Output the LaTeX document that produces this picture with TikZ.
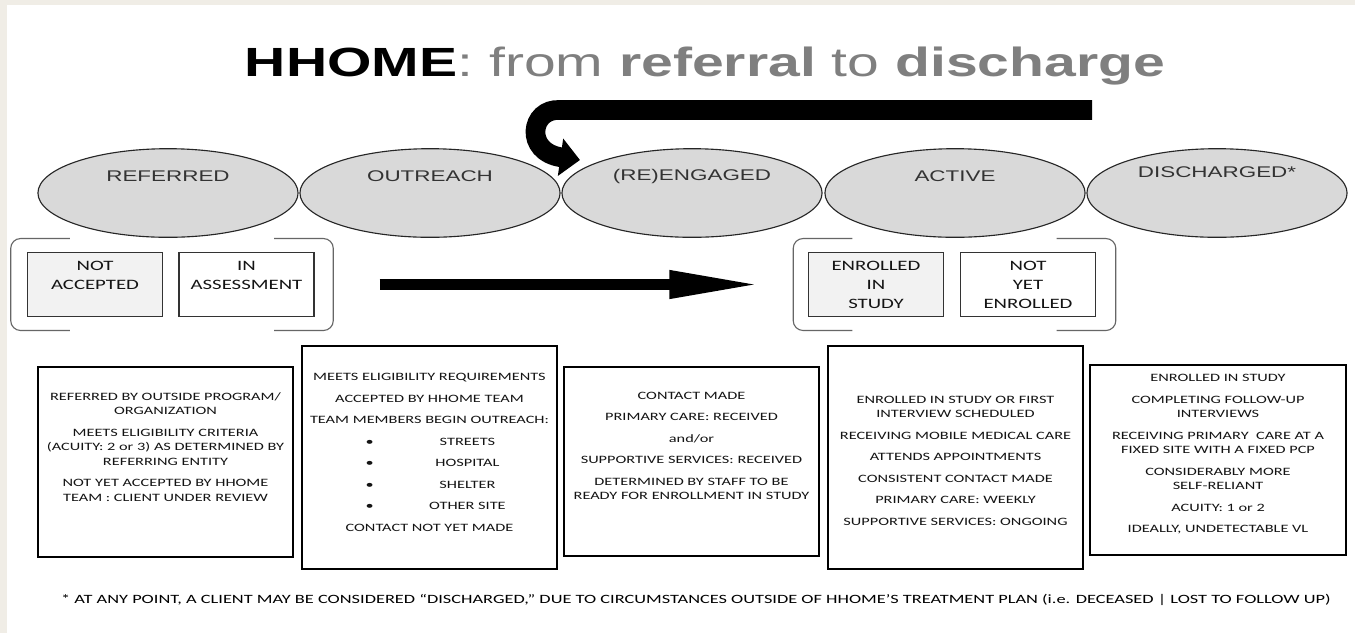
\documentclass[tikz,border=0pt]{standalone}
\usepackage{fontspec}
\setmainfont{Liberation Sans}
\newfontfamily\titlefont[FakeStretch=1.4]{Liberation Sans}
\newfontfamily\stagefont[FakeStretch=1.45]{Liberation Sans}
\newfontfamily\notefont[FakeStretch=1.45]{Carlito}
\usetikzlibrary{shapes.geometric, arrows.meta, positioning}
\definecolor{pagebeige}{RGB}{240,237,230}
\definecolor{stagegray}{RGB}{217,217,217}
\definecolor{subgray}{RGB}{242,242,242}
\definecolor{titlegray}{RGB}{127,127,127}
\definecolor{inkgray}{RGB}{20,20,20}

\tikzset{
  stage/.style={draw=black!85, line width=0.8pt, ellipse, fill=stagegray, minimum width=185pt, minimum height=63pt, inner sep=0pt},
  stagetext/.style={inner sep=0pt, text=black!80, font=\stagefont\fontsize{11}{13}\selectfont},
  substate/.style={draw=black!80, line width=0.9pt, minimum width=96pt, minimum height=46pt, inner sep=0pt, align=center, text=inkgray, font=\notefont\fontsize{10.2}{13.5}\selectfont},
  group/.style={minimum width=229pt, minimum height=65pt, inner sep=0pt},
  bracket/.style={draw=black!60, line width=0.8pt, rounded corners=7pt},
  infobox/.style={draw=black, line width=1.4pt, minimum width=181.5pt, minimum height=135pt, inner sep=0pt},
  tallbox/.style={infobox, minimum height=158.6pt},
  infotext/.style={anchor=north, inner sep=0pt, align=center, text=inkgray, font=\notefont\fontsize{8}{10.3}\selectfont},
  fatarrow/.style={line width=8.5pt, -{Triangle[length=67pt, width=18pt]}},
  looparrow/.style={line width=14pt, -{Triangle[length=14pt, width=26pt]}}
}
\newcommand{\siteitem}[1]{\makebox[54pt]{\textbullet}\makebox[85pt]{#1}}

\begin{document}
\begin{tikzpicture}[x=0.025cm, y=-0.025cm]
    \useasboundingbox (0,0) rectangle (1355,633);
    \fill[pagebeige] (0,0) rectangle (1355,633);
    \fill[white] (7,5) rectangle (1355,633);

    % Title
    \node[anchor=base] (title) at (705,76) {\titlefont\fontsize{29}{33}\selectfont\textbf{HHOME}\textcolor{titlegray}{: from \textbf{referral} to \textbf{discharge}}};

    % Create stages
    \node[stage] (referred) at (168,193) {};
    \node[stage] (outreach) at (430,193) {};
    \node[stage] (reengaged) at (692,193) {};
    \node[stage] (active) at (955,193) {};
    \node[stage] (discharged) at (1217,193) {};
    \node[stagetext] (referredlbl) at (168,176) {REFERRED};
    \node[stagetext] (outreachlbl) at (430,176) {OUTREACH};
    \node[stagetext] (reengagedlbl) at (692,176) {(RE)ENGAGED};
    \node[stagetext] (activelbl) at (955,176) {ACTIVE};
    \node[stagetext] (dischargedlbl) at (1217,172) {DISCHARGED*};

    % Loop back to (re)engaged
    \coordinate (loopstart) at (1092,110);
    \coordinate (loopend) at (580,160);
    \draw[looparrow] (loopstart) -- (560,110) .. controls (530,108) and (524,152) .. (loopend);

    % Sub states
    \node[group] (referredgrp) at (172,284.5) {};
    \node[group] (activegrp) at (954.5,284.5) {};
    \draw[bracket] ([xshift=42pt]referredgrp.north west) -- (referredgrp.north west) -- (referredgrp.south west) -- ([xshift=42pt]referredgrp.south west);
    \draw[bracket] ([xshift=-42pt]referredgrp.north east) -- (referredgrp.north east) -- (referredgrp.south east) -- ([xshift=-42pt]referredgrp.south east);
    \draw[bracket] ([xshift=42pt]activegrp.north west) -- (activegrp.north west) -- (activegrp.south west) -- ([xshift=42pt]activegrp.south west);
    \draw[bracket] ([xshift=-42pt]activegrp.north east) -- (activegrp.north east) -- (activegrp.south east) -- ([xshift=-42pt]activegrp.south east);
    \node[substate, fill=subgray] (notaccepted) at (95,284.5) {NOT\\ACCEPTED\\\phantom{X}};
    \node[substate, fill=white] (assessment) at (246.5,284.5) {IN\\ASSESSMENT\\\phantom{X}};
    \node[substate, fill=subgray] (enrolled) at (876,284.5) {ENROLLED\\IN\\STUDY};
    \node[substate, fill=white] (notenrolled) at (1028,284.5) {NOT\\YET\\ENROLLED};
    \draw[fatarrow, shorten <=33pt, shorten >=21pt] (referredgrp.east) -- (activegrp.west);

    % Stage descriptions
    \node[infobox] (referredbox) at (165.5,462) {};
    \node[tallbox] (outreachbox) at (429.5,457.5) {};
    \node[infobox] (reengagedbox) at (691.5,461.5) {};
    \node[tallbox] (activebox) at (955.5,457.5) {};
    \node[infobox] (dischargedbox) at (1218,460) {};

    \node[infotext, below=18.5pt of referredbox.north] (referredinfo) {REFERRED BY OUTSIDE PROGRAM/\\ORGANIZATION\\[5pt]MEETS ELIGIBILITY CRITERIA\\(ACUITY: 2 or 3) AS DETERMINED BY\\REFERRING ENTITY\\[5pt]NOT YET ACCEPTED BY HHOME\\TEAM : CLIENT UNDER REVIEW};
    \node[infotext, below=20pt of outreachbox.north] (outreachinfo) {MEETS ELIGIBILITY REQUIREMENTS\\[5pt]ACCEPTED BY HHOME TEAM\\[5pt]TEAM MEMBERS BEGIN OUTREACH:\\[5pt]\siteitem{STREETS}\\[5pt]\siteitem{HOSPITAL}\\[5pt]\siteitem{SHELTER}\\[5pt]\siteitem{OTHER SITE}\\[5pt]CONTACT NOT YET MADE};
    \node[infotext, below=18.5pt of reengagedbox.north] (reengagedinfo) {CONTACT MADE\\[5pt]PRIMARY CARE: RECEIVED\\[5pt]and/or\\[5pt]SUPPORTIVE SERVICES: RECEIVED\\[5pt]DETERMINED BY STAFF TO BE\\READY FOR ENROLLMENT IN STUDY};
    \node[infotext, below=36pt of activebox.north] (activeinfo) {ENROLLED IN STUDY OR FIRST\\INTERVIEW SCHEDULED\\[5pt]RECEIVING MOBILE MEDICAL CARE\\[5pt]ATTENDS APPOINTMENTS\\[5pt]CONSISTENT CONTACT MADE\\[5pt]PRIMARY CARE: WEEKLY\\[5pt]SUPPORTIVE SERVICES: ONGOING};
    \node[infotext, below=7pt of dischargedbox.north] (dischargedinfo) {ENROLLED IN STUDY\\[5pt]COMPLETING FOLLOW-UP\\INTERVIEWS\\[5pt]RECEIVING PRIMARY\ \ CARE AT A\\FIXED SITE WITH A FIXED PCP\\[5pt]CONSIDERABLY MORE\\SELF-RELIANT\\[5pt]ACUITY: 1 or 2\\[5pt]IDEALLY, UNDETECTABLE VL};

    % Footnote
    \node[inner sep=0pt, text=black, font=\notefont\fontsize{9}{11}\selectfont] (footnote) at (696,600) {* AT ANY POINT, A CLIENT MAY BE CONSIDERED “DISCHARGED,” DUE TO CIRCUMSTANCES OUTSIDE OF HHOME’S TREATMENT PLAN (i.e. DECEASED | LOST TO FOLLOW UP)};
\end{tikzpicture}
\end{document}
